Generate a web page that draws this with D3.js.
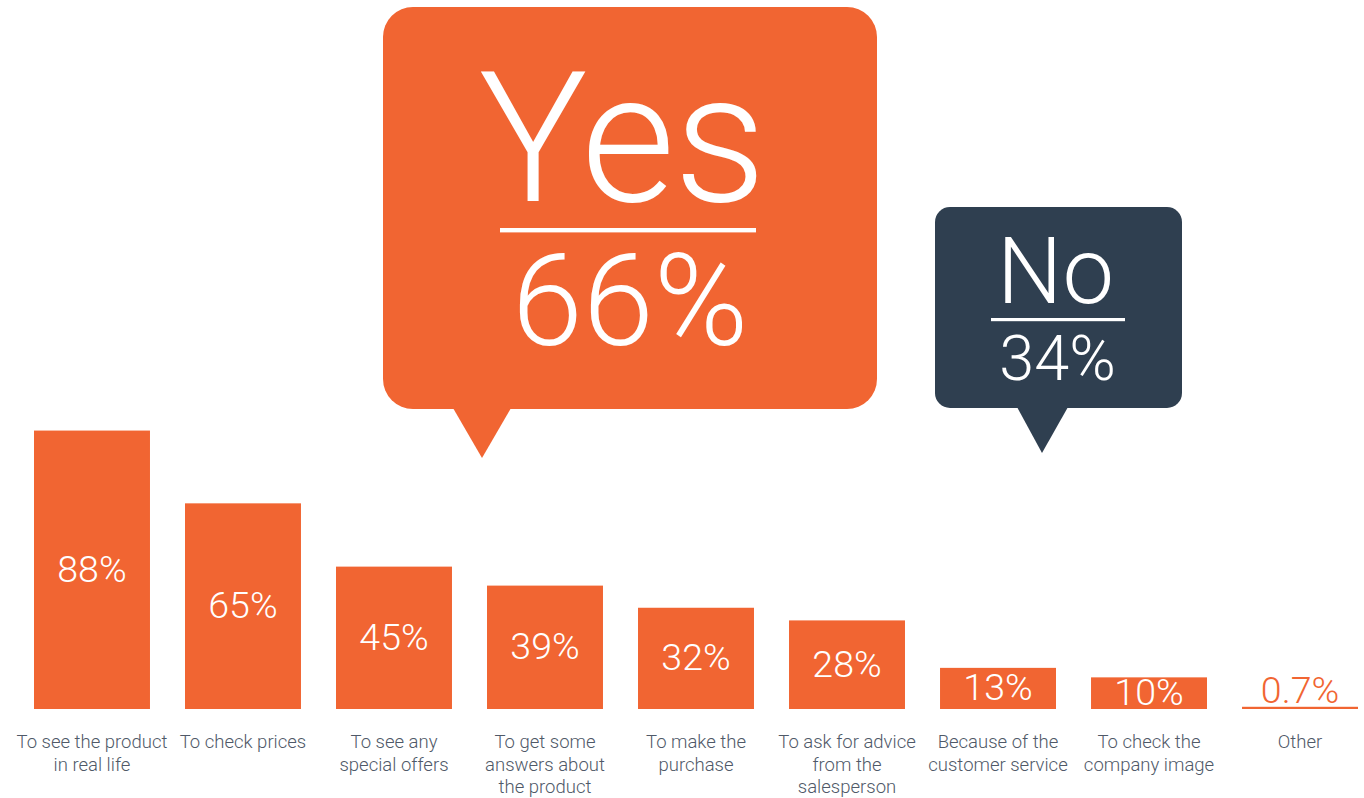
<!DOCTYPE html>
<html>
<head>
<meta charset="utf-8">
<script src="https://cdn.jsdelivr.net/npm/d3@7"></script>
<style>
  html, body { margin: 0; padding: 0; background: #ffffff; }
  svg { display: block; }
  text { font-family: "Helvetica Neue", Roboto, "Liberation Sans", Arial, sans-serif; font-weight: 300; }
</style>
</head>
<body>
<svg id="chart" width="1364" height="798"></svg>
<script>
// Reasons for visiting the store (share of respondents, %)
const categories = [
  "To see the product\nin real life",
  "To check prices",
  "To see any\nspecial offers",
  "To get some\nanswers about\nthe product",
  "To make the\npurchase",
  "To ask for advice\nfrom the\nsalesperson",
  "Because of the\ncustomer service",
  "To check the\ncompany image",
  "Other"
];
const values = [88, 65, 45, 39, 32, 28, 13, 10, 0.7];

// Did they visit the store? answer split (%)
const answers = ["Yes", "No"];
const answerShares = [66, 34];

const ORANGE = "#F16532";
const NAVY = "#2F3F50";
const LABEL_GRAY = "#4F5968";

const svg = d3.select("#chart");

const x = d3.scaleBand()
  .domain(categories)
  .range([34, 1358])
  .paddingInner(0.232)
  .paddingOuter(0);

const y = d3.scaleLinear()
  .domain([0, 100])
  .range([709, 392.6]);

const data = categories.map((c, i) => ({ cat: c, value: values[i] }));

const bars = svg.append("g").attr("class", "bars");

bars.selectAll("rect")
  .data(data)
  .join("rect")
  .attr("x", d => x(d.cat))
  .attr("y", d => y(d.value))
  .attr("width", x.bandwidth())
  .attr("height", d => y(0) - y(d.value))
  .attr("fill", ORANGE);

// value labels: inside the bar when it is tall enough, otherwise just above it
const valueSize = 37.5;
const isTiny = d => y(0) - y(d.value) < 20;
bars.selectAll("text.value")
  .data(data)
  .join("text")
  .attr("class", "value")
  .attr("x", d => x(d.cat) + x.bandwidth() / 2)
  .attr("y", d => {
    if (isTiny(d)) return y(d.value) - 4;
    return Math.min((y(d.value) + y(0)) / 2 + 12, y(0) - 1);
  })
  .attr("text-anchor", "middle")
  .attr("font-size", valueSize)
  .attr("fill", d => (isTiny(d) ? ORANGE : "#ffffff"))
  .text(d => d.value + "%");

// category labels under the bars
const cats = svg.append("g").attr("class", "categories");
cats.selectAll("text")
  .data(data)
  .join("text")
  .attr("x", d => x(d.cat) + x.bandwidth() / 2)
  .attr("y", 748)
  .attr("text-anchor", "middle")
  .attr("font-size", 18.5)
  .attr("fill", LABEL_GRAY)
  .each(function (d) {
    const t = d3.select(this);
    d.cat.split("\n").forEach((line, i) => {
      t.append("tspan")
        .attr("x", x(d.cat) + x.bandwidth() / 2)
        .attr("dy", i === 0 ? 0 : 22.5)
        .text(line);
    });
  });

// speech bubbles with the yes / no split
const bubbles = [
  { box: [383, 7, 494, 402], r: 30, tail: [453, 511, 482, 458], fill: ORANGE,
    word: { size: 182, base: 201, ls: -1, dx: -8 }, rule: [500, 756, 228, 4.4],
    pct: { size: 128, base: 345, ls: 0, dx: 0 } },
  { box: [935, 207, 247, 201], r: 15, tail: [1017, 1068, 1042, 453], fill: NAVY,
    word: { size: 92, base: 303, ls: 0, dx: -3 }, rule: [991, 1125, 318, 3.2],
    pct: { size: 63, base: 380, ls: 0, dx: -1 } }
];

bubbles.forEach((b, i) => {
  const g = svg.append("g").attr("class", "bubble");
  const [bx, by, bw, bh] = b.box;
  const cx = bx + bw / 2;
  g.append("rect")
    .attr("x", bx).attr("y", by)
    .attr("width", bw).attr("height", bh)
    .attr("rx", b.r).attr("ry", b.r)
    .attr("fill", b.fill);
  const [t0, t1, tx, ty] = b.tail;
  g.append("path")
    .attr("d", d3.line()([[t0, by + bh - 1], [t1, by + bh - 1], [tx, ty]]) + "Z")
    .attr("fill", b.fill);
  g.append("rect")
    .attr("x", b.rule[0]).attr("y", b.rule[2])
    .attr("width", b.rule[1] - b.rule[0]).attr("height", b.rule[3])
    .attr("fill", "#ffffff");
  // answer word and its share stacked in one text block
  const txt = g.append("text")
    .attr("text-anchor", "middle")
    .attr("fill", "#ffffff");
  txt.append("tspan")
    .attr("x", cx + b.word.dx).attr("y", b.word.base)
    .attr("font-size", b.word.size)
    .attr("letter-spacing", b.word.ls)
    .text(answers[i]);
  txt.append("tspan")
    .attr("x", cx + b.pct.dx).attr("y", b.pct.base)
    .attr("font-size", b.pct.size)
    .attr("letter-spacing", b.pct.ls)
    .text(answerShares[i] + "%");
});
</script>
</body>
</html>
